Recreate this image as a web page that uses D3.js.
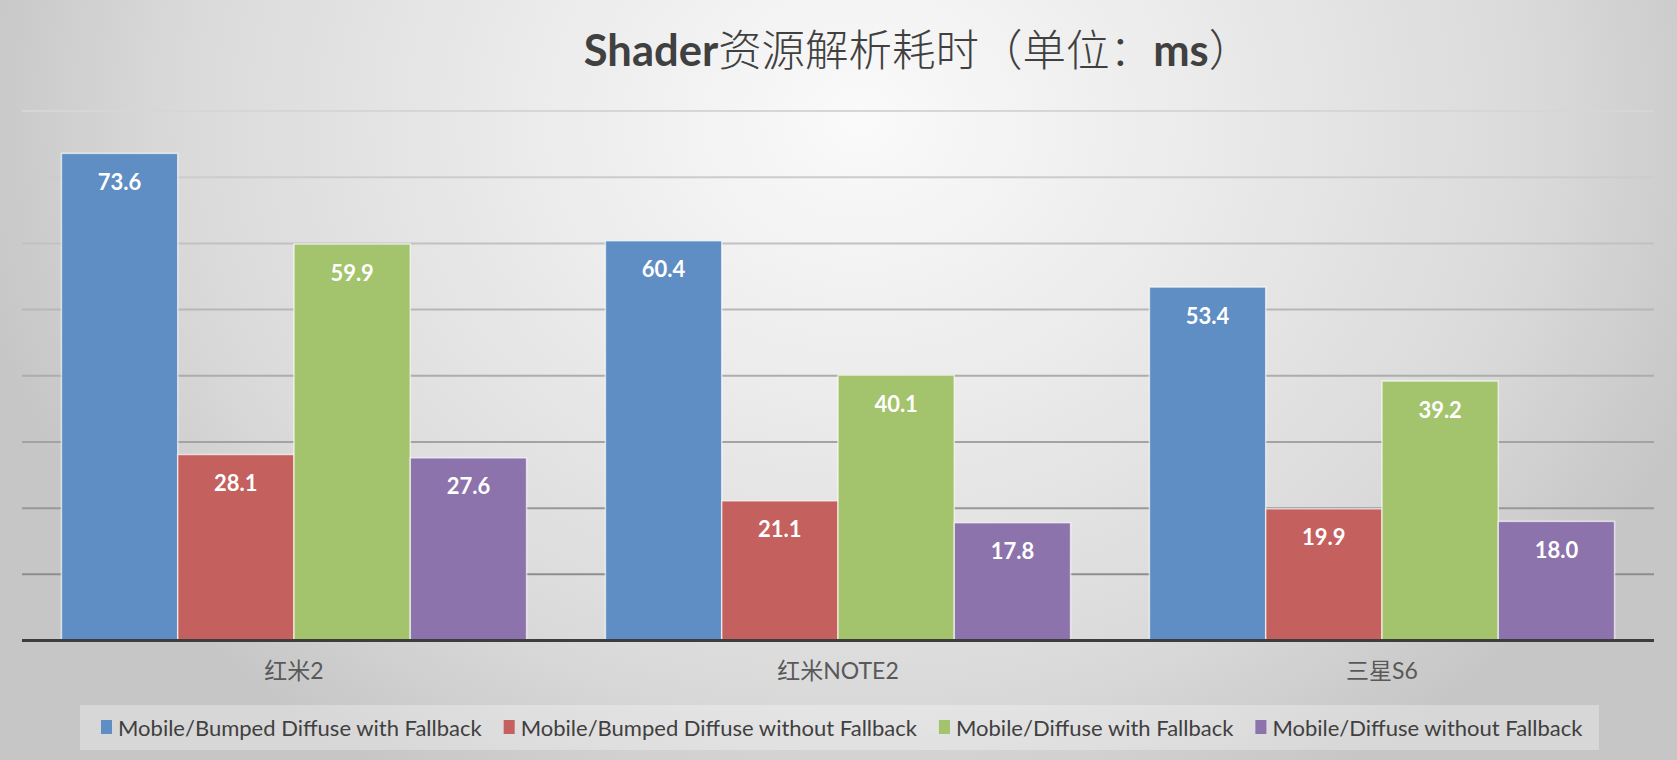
<!DOCTYPE html>
<html>
<head>
<meta charset="utf-8">
<script src="https://cdn.jsdelivr.net/npm/d3@7"></script>
<style>
  body { margin: 0; overflow: hidden; }
  text { font-family: Lato, "Noto Sans CJK SC", sans-serif; }
</style>
</head>
<body>
<div id="chart"></div>
<script>
// chart data
var devices = ["红米2", "红米NOTE2", "三星S6"];
var shaders = ["Mobile/Bumped Diffuse with Fallback", "Mobile/Bumped Diffuse without Fallback",
               "Mobile/Diffuse with Fallback", "Mobile/Diffuse without Fallback"];
var bumpedWithFallback = [73.6, 60.4, 53.4];
var bumpedWithoutFallback = [28.1, 21.1, 19.9];
var diffuseWithFallback = [59.9, 40.1, 39.2];
var diffuseWithoutFallback = [27.6, 17.8, 18.0];
var gridTicks = [10, 20, 30, 40, 50, 60, 70, 80];

var seriesValues = [bumpedWithFallback, bumpedWithoutFallback, diffuseWithFallback, diffuseWithoutFallback];
var colors = ["#5f8ec4", "#c4605e", "#a3c36c", "#8c73ac"];

var W = 1677, H = 760;
var plot = {left: 22, right: 1654, top: 111, bottom: 640.5};

var svg = d3.select("#chart").append("svg")
    .attr("width", W)
    .attr("height", H);

// background: light in the middle-top, grey toward the sides
var defs = svg.append("defs");
var bg = defs.append("radialGradient")
    .attr("id", "bg")
    .attr("gradientUnits", "userSpaceOnUse")
    .attr("cx", 860).attr("cy", 120).attr("r", 900)
    .attr("gradientTransform", "translate(860,120) scale(1,0.85) translate(-860,-120)");
bg.append("stop").attr("offset", "0%").attr("stop-color", "#fafafa");
bg.append("stop").attr("offset", "35%").attr("stop-color", "#ececec");
bg.append("stop").attr("offset", "75%").attr("stop-color", "#dadada");
bg.append("stop").attr("offset", "100%").attr("stop-color", "#c6c6c6");

svg.append("rect")
    .attr("width", W).attr("height", H)
    .attr("fill", "url(#bg)");

// scales
var y = d3.scaleLinear().domain([0, 80]).range([plot.bottom, plot.top]);
var x0 = d3.scaleBand().domain(devices).range([plot.left, plot.right]);
var x1 = d3.scaleBand().domain(d3.range(shaders.length))
    .range([0, x0.bandwidth()]).paddingOuter(0.339);

// gridlines, getting darker toward the bottom
var gridColor = d3.scaleLinear().domain([10, 80]).range(["#8e8e8e", "#d6d6d6"]);
svg.append("g")
  .selectAll("line")
  .data(gridTicks)
  .enter()
  .append("line")
    .attr("x1", plot.left).attr("x2", plot.right)
    .attr("y1", d => y(d)).attr("y2", d => y(d))
    .attr("stroke", d => gridColor(d))
    .attr("stroke-width", 2);

// bars
var table = [];
devices.forEach(function(dev, i) {
  seriesValues.forEach(function(vals, s) {
    table.push({device: dev, series: s, value: vals[i]});
  });
});

var bars = svg.append("g");
bars.selectAll("rect")
  .data(table)
  .enter()
  .append("rect")
    .attr("x", d => x0(d.device) + x1(d.series))
    .attr("y", d => y(d.value))
    .attr("width", x1.bandwidth())
    .attr("height", d => y(0) - y(d.value))
    .attr("fill", d => colors[d.series])
    .attr("stroke", "rgba(255,255,255,0.65)")
    .attr("stroke-width", 1.5);

bars.selectAll("text")
  .data(table)
  .enter()
  .append("text")
    .attr("x", d => x0(d.device) + x1(d.series) + x1.bandwidth() / 2)
    .attr("y", d => y(d.value) + 28)
    .attr("text-anchor", "middle")
    .attr("dominant-baseline", "central")
    .attr("fill", "#ffffff")
    .attr("font-weight", "bold")
    .attr("font-size", 22)
    .text(d => d.value.toFixed(1));

// x axis baseline
svg.append("line")
    .attr("x1", plot.left).attr("x2", plot.right)
    .attr("y1", y(0)).attr("y2", y(0))
    .attr("stroke", "#3d3d3d")
    .attr("stroke-width", 3);

var xAxis = svg.append("g")
    .attr("transform", "translate(0," + y(0) + ")")
    .call(d3.axisBottom(x0).tickSize(0).tickPadding(22));
xAxis.select(".domain").remove();
xAxis.selectAll("text")
    .attr("font-size", 23)
    .attr("fill", "#595959")
    .style("font-family", "Lato, 'Noto Sans CJK SC', sans-serif");

// title
var title = svg.append("text")
    .attr("x", 918)
    .attr("y", 66)
    .attr("text-anchor", "middle")
    .attr("fill", "#404040")
    .attr("font-size", 43.5);
title.append("tspan").attr("font-weight", "bold").text("Shader");
title.append("tspan").attr("font-weight", 300).text("资源解析耗时（单位：");
title.append("tspan").attr("font-weight", "bold").text("ms");
title.append("tspan").attr("font-weight", 300).text("）");

// legend
var legend = svg.append("g");
legend.append("rect")
    .attr("x", 80).attr("y", 705)
    .attr("width", 1519).attr("height", 45)
    .attr("fill", "rgba(255,255,255,0.3)");

var lx = 101;
shaders.forEach(function(name, s) {
  legend.append("rect")
      .attr("x", lx).attr("y", 720)
      .attr("width", 11).attr("height", 14)
      .attr("fill", colors[s]);
  var t = legend.append("text")
      .attr("x", lx + 17)
      .attr("y", 727)
      .attr("dominant-baseline", "central")
      .attr("font-size", 22)
      .attr("fill", "#404040")
      .text(name);
  lx += 17 + t.node().getComputedTextLength() + 22;
});
</script>
</body>
</html>
